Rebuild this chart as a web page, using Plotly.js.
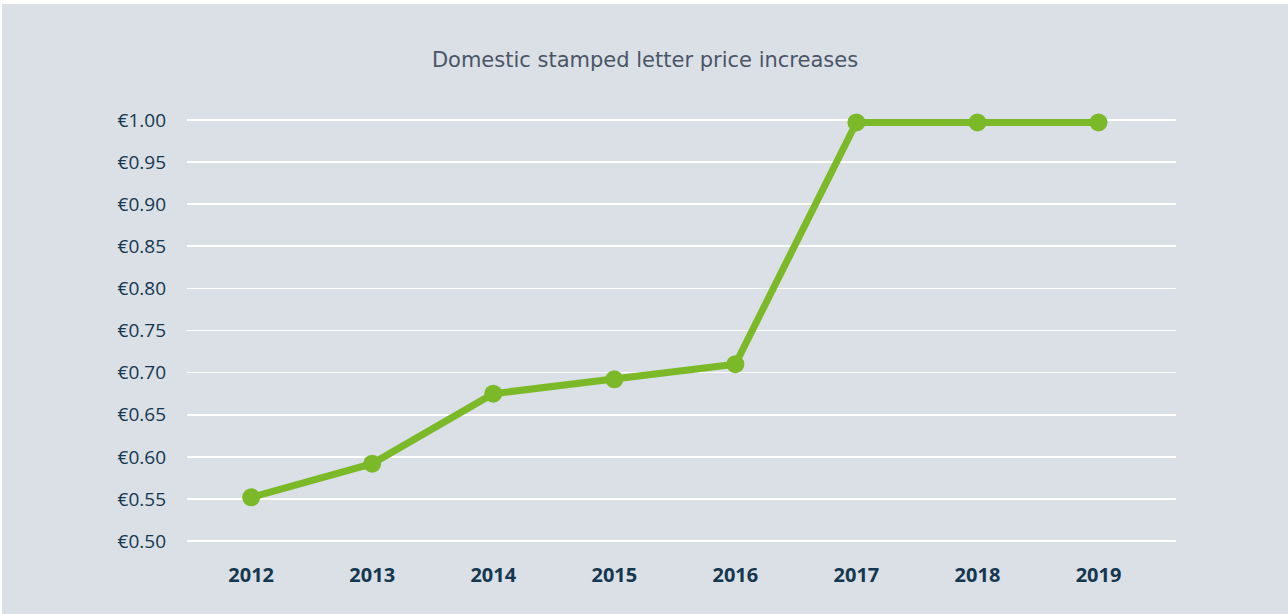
<!DOCTYPE html>
<html>
<head>
<meta charset="utf-8">
<script src="https://cdn.plot.ly/plotly-3.0.1.min.js"></script>
<style>
  html, body { margin: 0; padding: 0; background: #ffffff; }
  #chart { position: absolute; left: 2px; top: 4px; width: 1286px; height: 610px; }
</style>
</head>
<body>
<div id="chart"></div>
<script>
const years = ['2012', '2013', '2014', '2015', '2016', '2017', '2018', '2019'];
const prices = [0.552, 0.592, 0.675, 0.692, 0.710, 0.997, 0.997, 0.997];
const yTickValues = [0.50, 0.55, 0.60, 0.65, 0.70, 0.75, 0.80, 0.85, 0.90, 0.95, 1.00];
const yTickLabels = ['€0.50', '€0.55', '€0.60', '€0.65', '€0.70', '€0.75', '€0.80', '€0.85', '€0.90', '€0.95', '€1.00'];
const chartTitle = 'Domestic stamped letter price increases';

const trace = {
  x: years,
  y: prices,
  type: 'scatter',
  mode: 'lines+markers',
  line: { color: '#7cb928', width: 7 },
  marker: { color: '#7cb928', size: 18 },
  hoverinfo: 'x+y'
};

const layout = {
  width: 1286,
  height: 610,
  paper_bgcolor: '#dae0e6',
  plot_bgcolor: '#dae0e6',
  margin: { l: 185, r: 112, t: 99, b: 56 },
  showlegend: false,
  title: {
    text: chartTitle,
    x: 0.5,
    xanchor: 'center',
    y: 1 - 56 / 610,
    yanchor: 'middle',
    font: { family: '"DejaVu Sans", sans-serif', size: 21, color: '#4a5566' }
  },
  xaxis: {
    type: 'category',
    range: [-0.53, 7.64],
    showgrid: false,
    zeroline: false,
    showline: false,
    ticks: '',
    ticklabelstandoff: 3,
    tickfont: { family: '"Open Sans", sans-serif', size: 20, color: '#15374f', weight: 'bold' }
  },
  yaxis: {
    range: [0.48, 1.02],
    tickvals: yTickValues,
    ticktext: yTickLabels,
    showgrid: true,
    gridcolor: '#ffffff',
    gridwidth: 1.6,
    zeroline: false,
    showline: false,
    ticks: '',
    ticklabelstandoff: 20,
    tickfont: { family: '"Open Sans", sans-serif', size: 19, color: '#15374f' }
  }
};

Plotly.newPlot('chart', [trace], layout, { displayModeBar: false, staticPlot: true });
</script>
</body>
</html>
